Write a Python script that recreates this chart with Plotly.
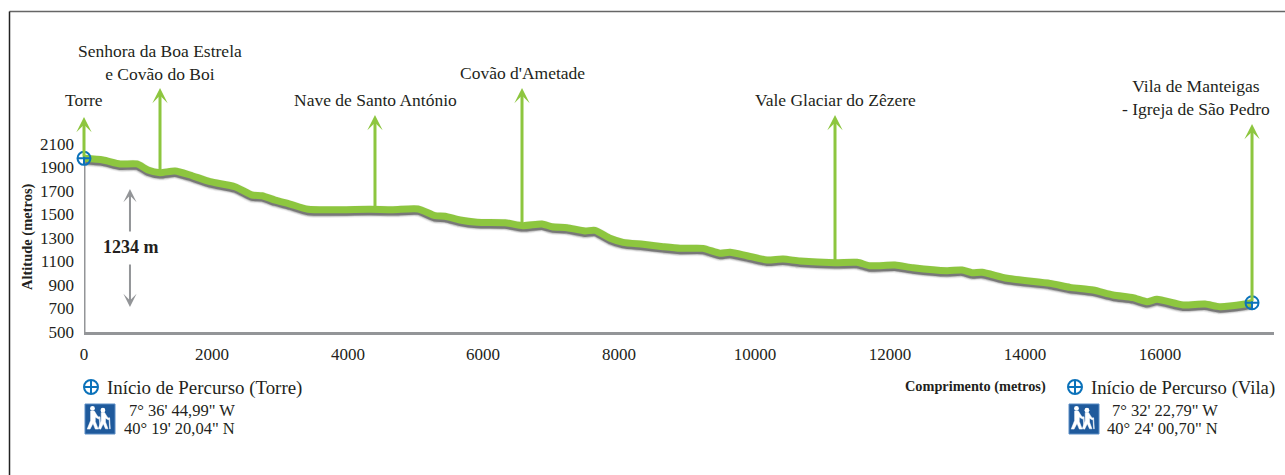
import numpy as np
import plotly.graph_objects as go

# ---- data ----
distance_m = [0, 281, 533, 785, 948, 1126, 1348, 1570, 1867, 2237, 2489, 2637, 2830, 3052, 3319, 4237,
              4578, 4948, 5200, 5348, 5570, 5822, 6237, 6504, 6785, 6933, 7156, 7422, 7570, 7793, 7985,
              8281, 8578, 8830, 9170, 9422, 9570, 9822, 10119, 10356, 10607, 11126, 11452, 11644, 12015,
              12281, 12785, 13007, 13156, 13304, 13674, 14311, 14607, 14948, 15244, 15541, 15748, 15896,
              16281, 16607, 16830, 17200, 17304]
altitude_m = [1978, 1964, 1930, 1930, 1879, 1856, 1870, 1836, 1779, 1736, 1666, 1660, 1623, 1589, 1544, 1544,
              1541, 1547, 1490, 1485, 1453, 1434, 1430, 1405, 1419, 1396, 1388, 1360, 1365, 1297, 1263,
              1246, 1226, 1212, 1212, 1170, 1178, 1149, 1113, 1121, 1104, 1090, 1093, 1064, 1070,
              1047, 1022, 1028, 1005, 1008, 957, 914, 880, 857, 815, 792, 758, 778,
              730, 738, 715, 738, 749]
place_names = ["Torre", "Senhora da Boa Estrela<br>e Covão do Boi", "Nave de Santo António",
               "Covão d'Ametade", "Vale Glaciar do Zêzere", "Vila de Manteigas<br>- Igreja de São Pedro"]
place_dist = [0, 1126, 4311, 6489, 11126, 17304]
place_alt = [1978, 1856, 1544, 1405, 1090, 749]
arrow_top = [2330, 2577, 2347, 2577, 2347, 2270]
label_px = [(84, 100), (160, 62), (375, 100), (522, 73), (835, 100), (1196, 97)]
y_ticks = [500, 700, 900, 1100, 1300, 1500, 1700, 1900, 2100]
x_tick_pos = [0, 1896, 3911, 5911, 7926, 9941, 11941, 13941, 15941]
x_tick_text = ["0", "2000", "4000", "6000", "8000", "10000", "12000", "14000", "16000"]
drop_label = "1234 m"
drop_x = 681
drop_ends = [(1717, 1342), (713, 1087)]

GREEN = "#8DC63F"
GREY = "#939598"
BLUE = "#0B72BA"
NAVY = "#1F5A9C"
INK = "#231F20"
SERIF = "Liberation Serif"

W, H = 1285, 475
PX_X, PX_Y = 0.0675, 0.1175
AX_L, AX_R, AX_B, AX_T = 84, 1274, 332, 20
SMOOTH = dict(shape="spline", smoothing=0.6)

fig = go.Figure()

# shadow below the profile
for off, width, alpha in [(18, 12, 0.05), (20, 10, 0.10), (22, 8, 0.20), (25, 6, 0.45)]:
    fig.add_trace(go.Scatter(x=distance_m, y=np.array(altitude_m) - off, mode="lines", hoverinfo="skip",
                             line=dict(color=f"rgba(40,40,40,{alpha})", width=width, **SMOOTH),
                             showlegend=False, cliponaxis=False))
# y axis line
fig.add_trace(go.Scatter(x=[0, 0], y=[500, altitude_m[0]], mode="lines", line=dict(color=GREY, width=3),
                         showlegend=False, cliponaxis=False, hoverinfo="skip"))
# profile
fig.add_trace(go.Scatter(x=distance_m, y=altitude_m, mode="lines", line=dict(color=GREEN, width=7, **SMOOTH),
                         showlegend=False, cliponaxis=False))
# start/end markers
fig.add_trace(go.Scatter(x=[distance_m[0], distance_m[-1]], y=[altitude_m[0], altitude_m[-1]], mode="markers",
                         marker=dict(symbol="circle-cross-open", size=13, color=BLUE, line=dict(color=BLUE, width=2)),
                         showlegend=False, cliponaxis=False))
# legend symbols in page pixels
fig.add_trace(go.Scatter(x=[91, 1075], y=[387, 387], xaxis="x2", yaxis="y2", mode="markers",
                         marker=dict(symbol="circle-cross-open", size=14, color=BLUE, line=dict(color=BLUE, width=2)),
                         showlegend=False, hoverinfo="skip"))

annotations = []
for name, d, a, top, (lx, ly) in zip(place_names, place_dist, place_alt, arrow_top, label_px):
    annotations.append(dict(x=d, y=top, ax=d, ay=a, xref="x", yref="y", axref="x", ayref="y", text="",
                            showarrow=True, arrowhead=3, arrowsize=0.85, arrowwidth=3, arrowcolor=GREEN))
    annotations.append(dict(x=lx, y=ly, xref="x2", yref="y2", text=name, showarrow=False, align="center",
                            font=dict(family=SERIF, size=17.5, color=INK)))
for tip, tail in drop_ends:
    annotations.append(dict(x=drop_x, y=tip, ax=drop_x, ay=tail, xref="x", yref="y", axref="x", ayref="y", text="",
                            showarrow=True, arrowhead=3, arrowsize=1.1, arrowwidth=2, arrowcolor=GREY))
annotations.append(dict(x=131, y=247, xref="x2", yref="y2", text=f"<b>{drop_label}</b>", showarrow=False,
                        font=dict(family=SERIF, size=18, color=INK)))
annotations.append(dict(x=27, y=237, xref="x2", yref="y2", text="<b>Altitude (metros)</b>", showarrow=False,
                        textangle=-90, font=dict(family=SERIF, size=14.5, color=INK)))
annotations.append(dict(x=975, y=386, xref="x2", yref="y2", text="<b>Comprimento (metros)</b>", showarrow=False,
                        font=dict(family=SERIF, size=14.3, color=INK)))
page_text = [
    (105, 388, "left", "Início de Percurso (Torre)", 18.9),
    (1089, 388, "left", "Início de Percurso (Vila)", 18.7),
    (237, 410, "right", "7° 36' 44,99\" W", 16.5),
    (237, 428, "right", "40° 19' 20,04\" N", 16.5),
    (1220, 410, "right", "7° 32' 22,79\" W", 16.5),
    (1220, 428, "right", "40° 24' 00,70\" N", 16.5),
]
for x, y, anchor, txt, size in page_text:
    annotations.append(dict(x=x, y=y, xref="x2", yref="y2", text=txt, showarrow=False, xanchor=anchor,
                            font=dict(family=SERIF, size=size, color=INK)))


def poly(ox, oy, s, pts):
    """closed pictogram outline in page pixels"""
    return "M" + " L".join(f"{ox + s*x:.1f},{oy + s*y:.1f}" for x, y in pts) + " Z"


WALKER = [(8.5, 9), (12.5, 9), (15.5, 14), (18, 16), (17, 17.5), (13.5, 15.5), (13.5, 20), (16.5, 28), (13.5, 28),
          (11, 22), (8, 28), (5, 28), (8.5, 19)]
STAFF = [(17.6, 15), (18.4, 15), (19.2, 28), (18.4, 28)]

shapes = [
    dict(type="line", xref="x2", yref="y2", x0=9.5, x1=1285, y0=11.5, y1=11.5, line=dict(color="#666666", width=1.5)),
    dict(type="line", xref="x2", yref="y2", x0=9.5, x1=9.5, y0=11.5, y1=475, line=dict(color="#222222", width=1.5)),
]
for ix in (85, 1069):
    iy = 404
    shapes.append(dict(type="rect", xref="x2", yref="y2", x0=ix, x1=ix + 30, y0=iy, y1=iy + 30,
                       fillcolor=NAVY, line=dict(color="#5B8CC4", width=1)))
    for dx, dy, s in [(-2.5, -1.5, 0.95), (9, 1, 0.85)]:
        for outline in (WALKER, STAFF):
            shapes.append(dict(type="path", xref="x2", yref="y2", path=poly(ix + dx, iy + dy, s, outline),
                               fillcolor="white", line=dict(color="white", width=0.5)))
        cx, cy = ix + dx + s * 10.5, iy + dy + s * 6.2
        shapes.append(dict(type="circle", xref="x2", yref="y2", x0=cx - 2.4, x1=cx + 2.4, y0=cy - 2.4, y1=cy + 2.4,
                           fillcolor="white", line=dict(color="white", width=0)))

fig.update_layout(
    width=W, height=H, margin=dict(l=0, r=0, t=0, b=0), paper_bgcolor="white", plot_bgcolor="rgba(0,0,0,0)",
    showlegend=False, annotations=annotations, shapes=shapes,
    xaxis=dict(domain=[AX_L / W, AX_R / W], range=[0, (AX_R - AX_L) / PX_X], anchor="y", automargin=False,
               tickmode="array", tickvals=x_tick_pos, ticktext=x_tick_text, showgrid=False, zeroline=False,
               showline=True, linecolor=GREY, linewidth=3, ticks="", ticklabelstandoff=5,
               tickfont=dict(family=SERIF, size=17, color=INK)),
    yaxis=dict(domain=[(H - AX_B) / H, (H - AX_T) / H], range=[500, 500 + (AX_B - AX_T) / PX_Y], anchor="x",
               automargin=False, tickmode="array", tickvals=y_ticks, showgrid=False, zeroline=False, showline=False,
               ticks="", ticklabelstandoff=9, tickfont=dict(family=SERIF, size=17, color=INK)),
    xaxis2=dict(domain=[0, 1], range=[0, W], anchor="y2", visible=False, fixedrange=True, automargin=False),
    yaxis2=dict(domain=[0, 1], range=[H, 0], anchor="x2", visible=False, fixedrange=True, automargin=False),
)
fig.write_html("out.html", post_script="document.body.style.margin='0';", config={"displayModeBar": False})
